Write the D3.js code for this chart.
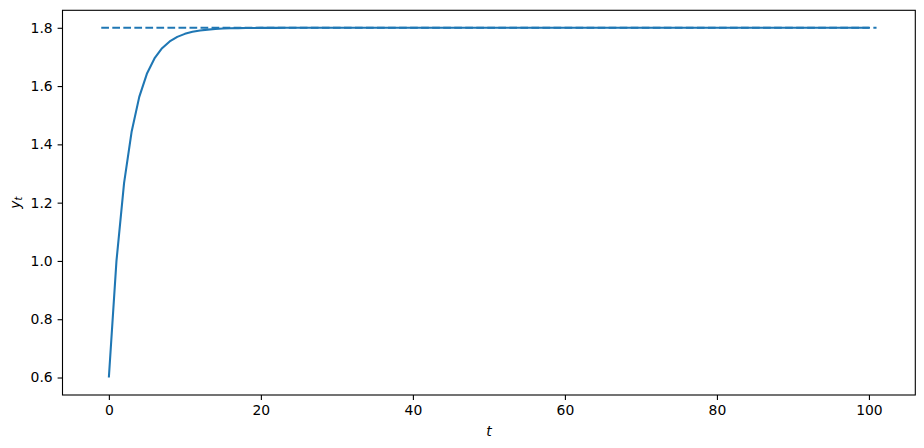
<!DOCTYPE html>
<meta charset="utf-8">
<html>

<head>
  <script src="https://d3js.org/d3.v7.min.js" charset="utf-8"></script>

  <style>
    body {
      margin: 0;
      background-color: white;
    }

    .x-axis text,
    .y-axis text {
      font-family: 'DejaVu Sans', sans-serif;
      font-size: 13.9px;
      fill: black;
    }

    .x-axis path,
    .y-axis path {
      display: none;
    }

    .x-axis line,
    .y-axis line {
      stroke: black;
      stroke-width: 1.1;
    }

    .frame {
      fill: none;
      stroke: black;
      stroke-width: 1.1;
    }

    .label {
      font-family: 'DejaVu Sans', sans-serif;
      font-style: italic;
      font-size: 13.9px;
      fill: black;
    }
  </style>
</head>

<body>
  <script>
    //Series values, y_t for t = 0..100
    var yValues = [
      0.6, 1.0, 1.2667, 1.4444, 1.5630, 1.6420, 1.6947, 1.7298, 1.7532, 1.7688,
      1.7792, 1.7861, 1.7908, 1.7938, 1.7959, 1.7973, 1.7982, 1.7988, 1.7992, 1.7995,
      1.7996, 1.7998, 1.7998, 1.7999, 1.7999, 1.8, 1.8, 1.8, 1.8, 1.8,
      1.8, 1.8, 1.8, 1.8, 1.8, 1.8, 1.8, 1.8, 1.8, 1.8,
      1.8, 1.8, 1.8, 1.8, 1.8, 1.8, 1.8, 1.8, 1.8, 1.8,
      1.8, 1.8, 1.8, 1.8, 1.8, 1.8, 1.8, 1.8, 1.8, 1.8,
      1.8, 1.8, 1.8, 1.8, 1.8, 1.8, 1.8, 1.8, 1.8, 1.8,
      1.8, 1.8, 1.8, 1.8, 1.8, 1.8, 1.8, 1.8, 1.8, 1.8,
      1.8, 1.8, 1.8, 1.8, 1.8, 1.8, 1.8, 1.8, 1.8, 1.8,
      1.8, 1.8, 1.8, 1.8, 1.8, 1.8, 1.8, 1.8, 1.8, 1.8,
      1.8
    ];

    //Steady state (dashed line)
    var steadyX = [-1, 101];
    var steadyY = 1.8;

    //Tick labels
    var xTicks = [0, 20, 40, 60, 80, 100];
    var yTicks = [0.6, 0.8, 1.0, 1.2, 1.4, 1.6, 1.8];

    var data = yValues.map((v, i) => ({ t: i, y: v }));

    //Margin conventions
    var W = 924, H = 448;
    var m = { top: 10.3, right: 8.7, bottom: 53, left: 62.5 };
    var w = W - m.left - m.right,
      h = H - m.top - m.bottom;

    var svg = d3.select('body')
      .append('svg')
      .attr('width', W)
      .attr('height', H)
      .append('g')
      .attr('transform', `translate(${m.left}, ${m.top})`);

    //Scales (matplotlib style 5% margins)
    var x = d3.scaleLinear()
      .domain([-6.1, 106.1])
      .range([0, w]);

    var y = d3.scaleLinear()
      .domain([0.54, 1.86])
      .range([h, 0]);

    //X axis
    svg.append('g')
      .attr('class', 'x-axis')
      .attr('transform', `translate(0, ${h})`)
      .call(d3.axisBottom(x)
        .tickValues(xTicks)
        .tickFormat(d3.format('d'))
        .tickSize(4.9)
        .tickPadding(4.9));

    //Y axis
    svg.append('g')
      .attr('class', 'y-axis')
      .call(d3.axisLeft(y)
        .tickValues(yTicks)
        .tickFormat(d3.format('.1f'))
        .tickSize(4.9)
        .tickPadding(4.9));

    //Dashed steady state line
    svg.append('line')
      .attr('x1', x(steadyX[0]))
      .attr('x2', x(steadyX[1]))
      .attr('y1', y(steadyY))
      .attr('y2', y(steadyY))
      .attr('stroke', '#1f77b4')
      .attr('stroke-width', 2.08)
      .attr('stroke-dasharray', '7.7,3.33');

    //Series line
    var line = d3.line()
      .x(d => x(d.t))
      .y(d => y(d.y));

    svg.append('path')
      .datum(data)
      .attr('d', line)
      .attr('fill', 'none')
      .attr('stroke', '#1f77b4')
      .attr('stroke-width', 2.08)
      .attr('stroke-linejoin', 'round');

    //Frame
    svg.append('rect')
      .attr('class', 'frame')
      .attr('width', w)
      .attr('height', h);

    //Axis labels
    svg.append('text')
      .attr('class', 'label')
      .attr('x', w / 2)
      .attr('y', h + 41)
      .attr('text-anchor', 'middle')
      .text('t');

    var yl = svg.append('text')
      .attr('class', 'label')
      .attr('transform', `translate(${-43}, ${h / 2}) rotate(-90)`)
      .attr('text-anchor', 'middle');
    yl.append('tspan').text('y');
    yl.append('tspan')
      .attr('font-size', '9.7px')
      .attr('dy', 2.5)
      .text('t');
  </script>
</body>

</html>
